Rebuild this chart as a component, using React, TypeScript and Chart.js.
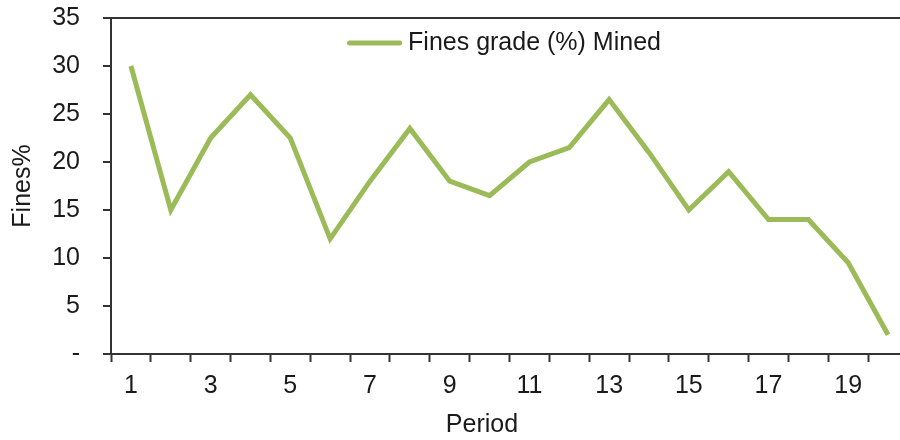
import React, { useEffect, useRef } from 'react';
import { Chart, registerables } from 'chart.js';

Chart.register(...registerables);

// ---- data ----
const periods = ['1', '2', '3', '4', '5', '6', '7', '8', '9', '10', '11', '12', '13', '14', '15', '16', '17', '18', '19', '20'];
const finesGrade = [30, 15, 22.5, 27, 22.5, 12, 18, 23.5, 18, 16.5, 20, 21.5, 26.5, 21, 15, 19, 14, 14, 9.5, 2];
const shownPeriodLabels = ['1', '3', '5', '7', '9', '11', '13', '15', '17', '19'];
const yTickValues = [0, 5, 10, 15, 20, 25, 30, 35];
const yTickLabels = ['-', '5', '10', '15', '20', '25', '30', '35'];
const seriesLabel = 'Fines grade (%) Mined';
const xTitle = 'Period';
const yTitle = 'Fines%';

const FONT = "'Liberation Sans', Arial, sans-serif";
const FONT_SIZE = 25;
const TEXT = '#1a1a1a';
const AXIS = '#333333';
const GREEN = '#9BBB59';

const overlayPlugin = {
  id: 'overlayText',
  afterDraw(chart: any) {
    const { ctx, chartArea } = chart;
    const ds = chart.data.datasets[0];
    ctx.save();
    ctx.font = `${FONT_SIZE}px ${FONT}`;
    // legend inside plot area
    const tw = ctx.measureText(ds.label).width;
    const lineLen = 55;
    const gap = 6;
    const total = lineLen + gap + tw;
    const cx = (chartArea.left + chartArea.right) / 2 - 5.5;
    const x0 = cx - total / 2;
    const y = chartArea.top + 25;
    ctx.strokeStyle = ds.borderColor;
    ctx.lineWidth = 5;
    ctx.lineCap = 'round';
    ctx.beginPath();
    ctx.moveTo(x0 + 2.5, y);
    ctx.lineTo(x0 + lineLen - 2.5, y);
    ctx.stroke();
    ctx.fillStyle = TEXT;
    ctx.textBaseline = 'middle';
    ctx.textAlign = 'left';
    ctx.fillText(ds.label, x0 + lineLen + gap, y);
    // x axis title
    ctx.textAlign = 'center';
    ctx.fillText(xTitle, chartArea.left + (chartArea.right - chartArea.left) * 0.4655, chart.height - 15);
    ctx.restore();
  },
};

export default function App() {
  const ref = useRef<HTMLCanvasElement>(null);
  useEffect(() => {
    if (!ref.current) return;
    const chart = new Chart(ref.current, {
      type: 'line',
      data: {
        labels: periods,
        datasets: [
          {
            label: seriesLabel,
            data: finesGrade,
            borderColor: GREEN,
            backgroundColor: GREEN,
            borderWidth: 5,
            pointRadius: 0,
            pointHoverRadius: 0,
            tension: 0,
            fill: false,
          },
        ],
      },
      options: {
        responsive: false,
        animation: false,
        devicePixelRatio: 1,
        layout: { padding: { top: 18, right: 4, bottom: 0, left: 0 } },
        plugins: {
          legend: { display: false },
          tooltip: { enabled: false },
        },
        scales: {
          x: {
            type: 'category',
            offset: true,
            afterFit: (scale: any) => {
              scale.height = 86;
              scale.paddingLeft = 0;
              scale.paddingRight = 0;
            },
            grid: {
              offset: true,
              drawOnChartArea: false,
              drawTicks: true,
              tickLength: 8,
              tickColor: AXIS,
              tickWidth: 2,
            },
            border: { display: true, color: AXIS, width: 2 },
            ticks: {
              autoSkip: false,
              maxRotation: 0,
              minRotation: 0,
              padding: 9,
              color: TEXT,
              font: { family: FONT, size: FONT_SIZE },
              callback: (_v: any, i: number) => (shownPeriodLabels.includes(periods[i]) ? periods[i] : ''),
            },
          },
          y: {
            min: yTickValues[0],
            max: yTickValues[yTickValues.length - 1],
            afterFit: (scale: any) => {
              scale.width = 111;
              scale.paddingTop = 0;
              scale.paddingBottom = 0;
            },
            afterBuildTicks: (scale: any) => {
              scale.ticks = yTickValues.map((v) => ({ value: v }));
            },
            grid: {
              drawOnChartArea: true,
              color: (c: any) => (c.tick && c.tick.value === yTickValues[yTickValues.length - 1] ? AXIS : 'rgba(0,0,0,0)'),
              lineWidth: 2,
              drawTicks: true,
              tickLength: 8,
              tickColor: AXIS,
              tickWidth: 2,
            },
            border: { display: true, color: AXIS, width: 2 },
            ticks: {
              padding: 23,
              color: TEXT,
              font: { family: FONT, size: FONT_SIZE },
              callback: (v: any) => yTickLabels[yTickValues.indexOf(Number(v))],
            },
            title: {
              display: true,
              text: yTitle,
              color: TEXT,
              font: { family: FONT, size: FONT_SIZE },
              padding: { top: 8, bottom: 0 },
            },
          },
        },
      },
      plugins: [overlayPlugin],
    });
    return () => chart.destroy();
  }, []);

  return (
    <div style={{ position: 'absolute', left: 0, top: 0, width: 900, height: 440, overflow: 'hidden', background: '#fff' }}>
      <canvas ref={ref} width={912} height={440} style={{ display: 'block' }} />
    </div>
  );
}
